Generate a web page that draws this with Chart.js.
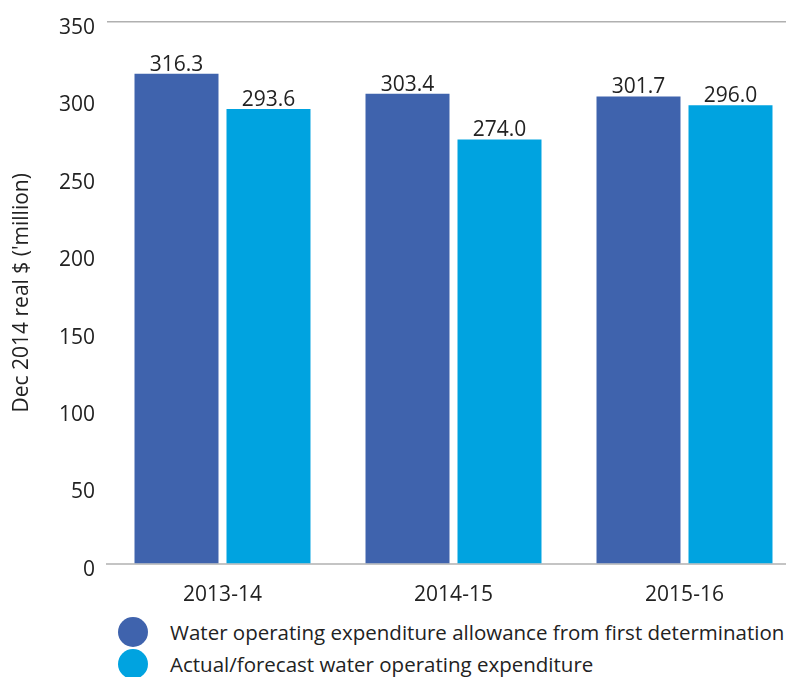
<!DOCTYPE html>
<html>
<head>
<meta charset="utf-8">
<script src="https://cdn.jsdelivr.net/npm/chart.js@4/dist/chart.umd.min.js"></script>
<style>
  html, body { margin: 0; padding: 0; background: #fff; overflow: hidden; }
  #wrap { position: relative; width: 786px; height: 677px; overflow: hidden; }
  #chartBox { position: absolute; left: 0; top: -3px; width: 800px; height: 613px; }
  #legend { position: absolute; left: 118px; top: 616px; font-family: "Open Sans", sans-serif; font-size: 20.5px; color: #222; }
  .item { display: flex; align-items: center; height: 32px; white-space: nowrap; }
  .dot { width: 30px; height: 30px; border-radius: 50%; margin-right: 22px; flex: none; }
</style>
</head>
<body>
<div id="wrap">
  <div id="chartBox"><canvas id="c" width="800" height="613"></canvas></div>
  <div id="legend"></div>
</div>
<script>
const categories = ['2013-14', '2014-15', '2015-16'];
const allowance = [316.3, 303.4, 301.7];
const actual = [293.6, 274.0, 296.0];
const seriesNames = [
  'Water operating expenditure allowance from first determination',
  'Actual/forecast water operating expenditure'
];
const seriesColors = ['#3F63AD', '#00A3E0'];
const yTitle = "Dec 2014 real $ ('million)";

const FONT = '"Open Sans", sans-serif';

// Writes each bar's value just above its top
const valueLabels = {
  id: 'valueLabels',
  afterDatasetsDraw(chart) {
    const ctx = chart.ctx;
    ctx.save();
    ctx.font = '21px ' + FONT;
    ctx.fillStyle = '#222';
    ctx.textAlign = 'center';
    ctx.textBaseline = 'alphabetic';
    chart.data.datasets.forEach((ds, i) => {
      chart.getDatasetMeta(i).data.forEach((bar, j) => {
        ctx.fillText(ds.data[j].toFixed(1), bar.x, bar.y - 3);
      });
    });
    ctx.restore();
  }
};

const chart = new Chart(document.getElementById('c'), {
  type: 'bar',
  data: {
    labels: categories,
    datasets: [
      { label: seriesNames[0], data: allowance, backgroundColor: seriesColors[0] },
      { label: seriesNames[1], data: actual, backgroundColor: seriesColors[1] }
    ]
  },
  options: {
    responsive: false,
    animation: false,
    devicePixelRatio: 1,
    categoryPercentage: 0.7965,
    barPercentage: 0.913,
    layout: { padding: { top: 18, right: 0, left: 0, bottom: 0 } },
    plugins: { legend: { display: false }, tooltip: { enabled: false } },
    scales: {
      x: {
        grid: { display: false },
        border: { display: true, color: '#c4c4c4', width: 2 },
        ticks: { font: { family: FONT, size: 21 }, color: '#222', padding: 10 },
        afterFit(scale) { scale.height = 46; }
      },
      y: {
        min: 0, max: 350,
        ticks: { stepSize: 50, font: { family: FONT, size: 21 }, color: '#222', padding: 12, labelOffset: 6 },
        grid: {
          drawTicks: false,
          color: (c) => (c.tick && c.tick.value === 350 ? '#b0b0b0' : 'rgba(0,0,0,0)'),
          lineWidth: 1.5
        },
        border: { display: false },
        title: {
          display: true, text: yTitle, color: '#222',
          font: { family: FONT, size: 21 }, padding: { top: 9, bottom: 0 }
        },
        afterFit(scale) { scale.width = 107; }
      }
    }
  },
  plugins: [valueLabels]
});

// Legend built from the chart's datasets
const legend = document.getElementById('legend');
chart.data.datasets.forEach((ds) => {
  const row = document.createElement('div');
  row.className = 'item';
  const dot = document.createElement('span');
  dot.className = 'dot';
  dot.style.background = ds.backgroundColor;
  const txt = document.createElement('span');
  txt.textContent = ds.label;
  row.appendChild(dot);
  row.appendChild(txt);
  legend.appendChild(row);
});
</script>
</body>
</html>
